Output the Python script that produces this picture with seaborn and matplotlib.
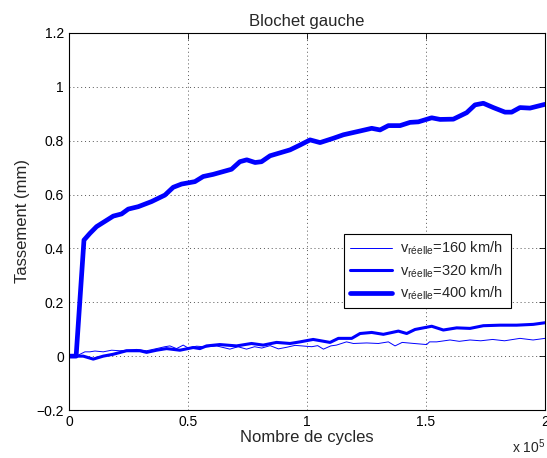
import matplotlib
matplotlib.use("Agg")
import matplotlib.pyplot as plt
import seaborn as sns
import pandas as pd

# cycles in units of 1e5
x_160 = [0, 0.03, 0.067, 0.088, 0.109, 0.144, 0.179, 0.214, 0.242, 0.284, 0.326, 0.368, 0.403,
         0.424, 0.452, 0.480, 0.501, 0.536, 0.578, 0.62, 0.676, 0.71, 0.746, 0.78, 0.81, 0.845,
         0.88, 0.915, 0.95, 0.992, 1.02, 1.045, 1.069, 1.10, 1.124, 1.166, 1.195, 1.251, 1.30,
         1.342, 1.370, 1.40, 1.45, 1.503, 1.515, 1.545, 1.601, 1.64, 1.685, 1.73, 1.78, 1.83,
         1.895, 1.95, 2.0]
y_160 = [0, 0, 0.016, 0.016, 0.019, 0.016, 0.022, 0.020, 0.022, 0.025, 0.020, 0.028, 0.035,
         0.038, 0.028, 0.041, 0.030, 0.037, 0.034, 0.038, 0.026, 0.035, 0.026, 0.035, 0.030,
         0.039, 0.027, 0.033, 0.040, 0.037, 0.035, 0.039, 0.026, 0.038, 0.041, 0.053, 0.047,
         0.049, 0.047, 0.053, 0.038, 0.051, 0.047, 0.043, 0.053, 0.053, 0.060, 0.055, 0.060,
         0.057, 0.062, 0.057, 0.066, 0.060, 0.066]

x_320 = [0, 0.06, 0.102, 0.144, 0.186, 0.242, 0.298, 0.326, 0.368, 0.410, 0.466, 0.522, 0.550,
         0.578, 0.634, 0.704, 0.767, 0.816, 0.872, 0.929, 0.971, 1.026, 1.097, 1.132, 1.188,
         1.223, 1.272, 1.321, 1.384, 1.419, 1.454, 1.524, 1.573, 1.629, 1.685, 1.741, 1.811,
         1.881, 1.951, 2.0]
y_320 = [0, 0, -0.011, 0, 0.007, 0.020, 0.020, 0.014, 0.022, 0.028, 0.022, 0.032, 0.028, 0.038,
         0.043, 0.038, 0.047, 0.041, 0.051, 0.047, 0.053, 0.062, 0.051, 0.066, 0.066, 0.084,
         0.088, 0.081, 0.093, 0.084, 0.099, 0.111, 0.097, 0.105, 0.103, 0.113, 0.115, 0.115,
         0.118, 0.124]

x_400 = [0, 0.03, 0.063, 0.088, 0.116, 0.186, 0.221, 0.249, 0.291, 0.347, 0.403, 0.438, 0.473,
         0.529, 0.564, 0.606, 0.683, 0.718, 0.747, 0.782, 0.809, 0.845, 0.929, 0.971, 1.013,
         1.055, 1.111, 1.153, 1.223, 1.272, 1.307, 1.342, 1.391, 1.433, 1.468, 1.524, 1.559,
         1.615, 1.671, 1.706, 1.741, 1.783, 1.832, 1.860, 1.895, 1.937, 2.0]
y_400 = [0, 0, 0.431, 0.456, 0.481, 0.520, 0.528, 0.546, 0.555, 0.574, 0.598, 0.627, 0.639,
         0.648, 0.667, 0.675, 0.694, 0.722, 0.729, 0.719, 0.722, 0.744, 0.766, 0.784, 0.803,
         0.793, 0.809, 0.822, 0.836, 0.846, 0.840, 0.856, 0.856, 0.868, 0.870, 0.885, 0.879,
         0.880, 0.904, 0.933, 0.939, 0.923, 0.906, 0.906, 0.923, 0.921, 0.935]

labels = [r"v$_{\mathrm{réelle}}$=160 km/h",
          r"v$_{\mathrm{réelle}}$=320 km/h",
          r"v$_{\mathrm{réelle}}$=400 km/h"]
widths = [0.7, 2.2, 3.4]

sns.set_style("white")
plt.rcParams["font.family"] = ["Liberation Sans", "DejaVu Sans"]
plt.rcParams.update({
    "mathtext.fontset": "custom",
    "mathtext.rm": "Liberation Sans",
    "mathtext.it": "Liberation Sans:italic",
    "axes.unicode_minus": True,
})

fig = plt.figure(figsize=(5.47, 4.58), dpi=100)
ax = fig.add_axes([0.1261, 0.1048, 0.8702, 0.8232])

series = [(x_160, y_160), (x_320, y_320), (x_400, y_400)]
for (xs, ys), lab, lw in zip(series, labels, widths):
    df = pd.DataFrame({"x": xs, "y": ys})
    sns.lineplot(data=df, x="x", y="y", ax=ax, color="#0000ff", linewidth=lw,
                 label=lab, sort=False, estimator=None)

ax.set_xlim(0, 2)
ax.set_ylim(-0.2, 1.2)
ax.set_xticks([0, 0.5, 1, 1.5, 2])
ax.set_xticklabels(["0", "0.5", "1", "1.5", "2"])
yt = [-0.2, 0, 0.2, 0.4, 0.6, 0.8, 1, 1.2]
ax.set_yticks(yt)
ax.set_yticklabels(["\u22120.2", "0", "0.2", "0.4", "0.6", "0.8", "1", "1.2"])
ax.tick_params(direction="in", length=4, width=0.6, labelsize=10, top=True, right=True,
               colors="black")
ax.grid(True, linestyle=(0, (1, 3)), color="#555555", linewidth=0.7)
for s in ax.spines.values():
    s.set_visible(True)
    s.set_color("black")
    s.set_linewidth(0.8)

ax.set_title("Blochet gauche", fontsize=12, pad=5)
ax.set_xlabel("Nombre de cycles", fontsize=12, labelpad=1)
ax.set_ylabel("Tassement (mm)", fontsize=12, labelpad=5)
ax.text(1.0, -0.072, r"x 10$^5$", transform=ax.transAxes, ha="right", va="top", fontsize=10)

leg = ax.legend(loc="lower left", bbox_to_anchor=(0.578, 0.27, 0.351, 0.205), mode="expand",
                borderaxespad=0, fontsize=10.5, frameon=True, fancybox=False, framealpha=1,
                edgecolor="black", handlelength=2.9, handletextpad=0.5,
                borderpad=0.4, labelspacing=0.35)
leg.get_frame().set_linewidth(0.8)

fig.savefig("out.png", dpi=100)
